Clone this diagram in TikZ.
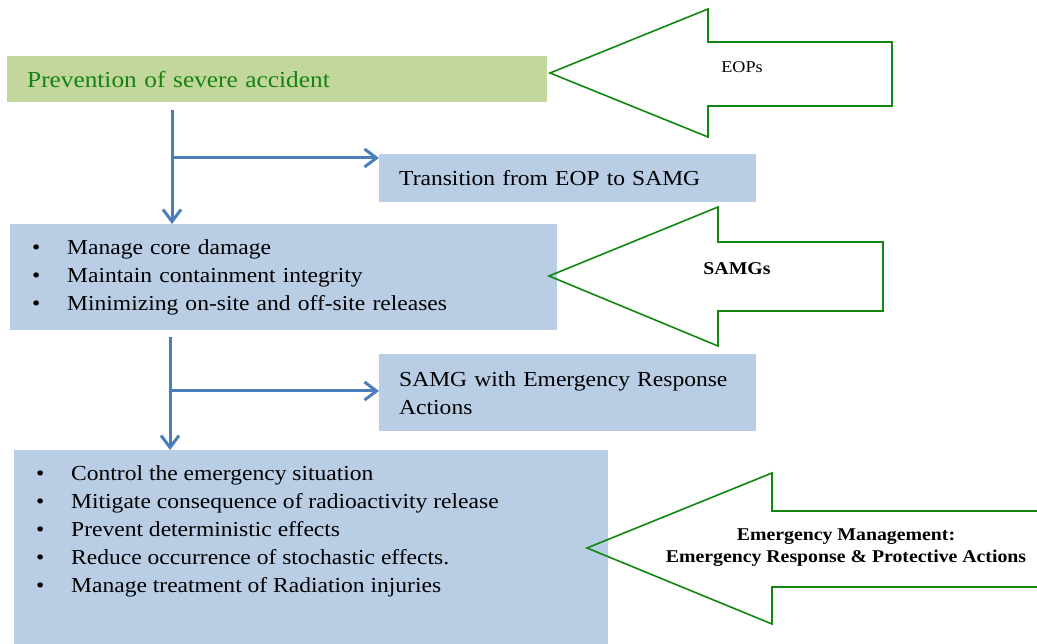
\documentclass[tikz,border=0pt]{standalone}
\usepackage{fontspec}
\setmainfont[FakeStretch=1.1]{Liberation Serif}
\usepackage{tikz}
\usetikzlibrary{arrows.meta}

\definecolor{boxblue}{RGB}{185,205,229}
\definecolor{boxgreen}{RGB}{195,214,155}
\definecolor{textgreen}{RGB}{20,130,20}
\definecolor{linkblue}{RGB}{74,126,187}
\definecolor{arrowgreen}{RGB}{16,135,16}
\newcommand{\bitem}{\makebox[35pt][l]{\textbullet}}
\hyphenpenalty=10000

\begin{document}
\begin{tikzpicture}[x=1pt, y=-1pt]
    \tikzstyle{every node}=[inner sep=0pt, anchor=north west]
    \tikzstyle{box}=[fill=boxblue, inner xsep=20pt, align=left, font=\fontsize{21.4}{28}\selectfont]
    \tikzstyle{link}=[draw=linkblue, line width=3pt, -{Straight Barb[length=12pt,width=18pt]}]
    \tikzstyle{bigarrow}=[draw=arrowgreen, line width=1.6pt]
    \tikzstyle{arrowlabel}=[anchor=center, align=center, font=\fontsize{18}{22}\selectfont\bfseries]
    \clip (0,0) rectangle (1037,644);
    \draw (7,56) node[box, fill=boxgreen, text=textgreen, text width=500pt, minimum height=46pt, font=\fontsize{23}{28}\selectfont] (prevent) {Prevention of severe accident};
    \draw (379,154) node[box, text width=337pt, minimum height=48pt] (trans) {Transition from EOP to SAMG};
    \draw (10,224) node[box, inner xsep=22pt, text width=503pt, minimum height=106pt] (manage) {\bitem Manage core damage\\ \bitem Maintain containment integrity\\ \bitem Minimizing on-site and off-site releases};
    \draw (379,354) node[box, text width=337pt, minimum height=77pt] (samger) {SAMG with Emergency Response\\ Actions};
    \draw (14,450) node[box, text width=554pt, minimum height=194pt] (control) {};
    \draw (36,465) node[box, fill=none, inner xsep=0pt] (controllist) {\bitem Control the emergency situation\\ \bitem Mitigate consequence of radioactivity release\\ \bitem Prevent deterministic effects\\ \bitem Reduce occurrence of stochastic effects.\\ \bitem Manage treatment of Radiation injuries};

    \draw[bigarrow] (550,73) -- (708,9) -- (708,42) -- (892,42) -- (892,106) -- (708,106) -- (708,137) -- cycle;
    \draw[bigarrow] (549,276) -- (718,207) -- (718,242) -- (883,242) -- (883,311) -- (718,311) -- (718,346) -- cycle;
    \draw[bigarrow] (587,548) -- (772,473) -- (772,511) -- (1050,511) -- (1050,587) -- (772,587) -- (772,624) -- cycle;
    \draw (742,67) node[arrowlabel, font=\fontsize{16.5}{20}\selectfont] (eops) {EOPs};
    \draw (737,269) node[arrowlabel] (samgs) {SAMGs};
    \draw (846,548) node[arrowlabel] (emerg) {Emergency Management:\\ Emergency Response \& Protective Actions};

    \coordinate (down1) at (172,110);
    \coordinate (fork1) at (172,158);
    \coordinate (down2) at (170,337);
    \coordinate (fork2) at (170,391);
    \draw[link] (down1) -- (down1 |- manage.north);
    \draw[link] (fork1) -- (fork1 -| trans.west);
    \draw[link] (down2) -- (down2 |- control.north);
    \draw[link] (fork2) -- (fork2 -| samger.west);
\end{tikzpicture}
\end{document}
